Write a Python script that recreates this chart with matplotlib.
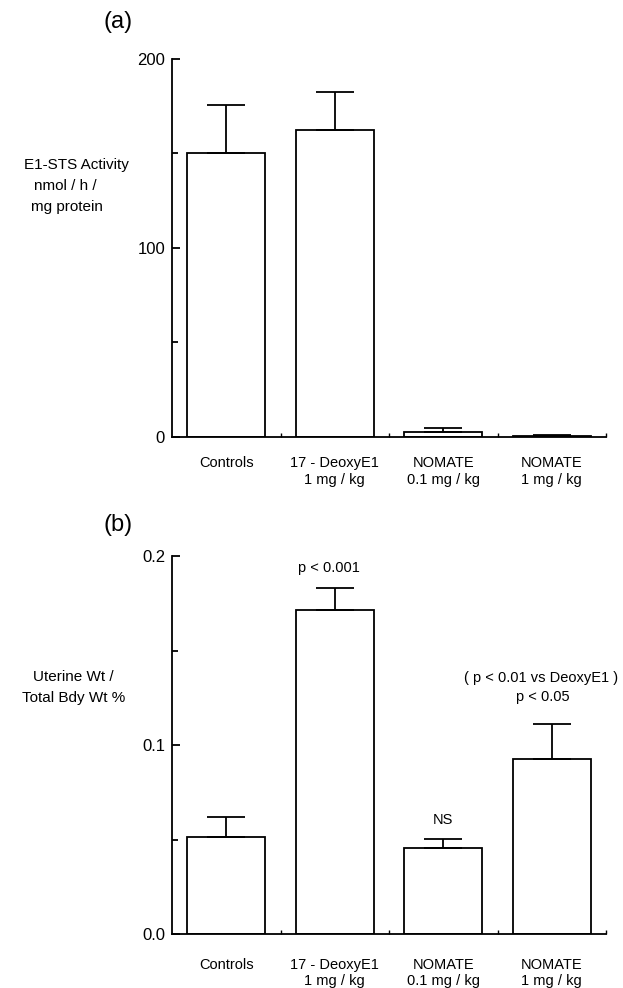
import matplotlib.pyplot as plt
import numpy as np

plt.rcParams['font.family'] = ['Liberation Sans', 'DejaVu Sans']

groups = ["Controls", "17 - DeoxyE1\n1 mg / kg", "NOMATE\n0.1 mg / kg", "NOMATE\n1 mg / kg"]

# (a) E1-STS activity, nmol/h/mg protein
sts_mean = [150, 162.5, 2.8, 0.5]
sts_err = [25.5, 20.3, 1.7, 0.4]

# (b) uterine wt / total body wt %
ut_mean = [0.0512, 0.1716, 0.0453, 0.0926]
ut_err = [0.0105, 0.0113, 0.0048, 0.0187]
ut_notes = ["", "p < 0.001", "NS", "p < 0.05"]

W, H = 623, 988
fig = plt.figure(figsize=(6.23, 9.88), dpi=100)

x = np.arange(len(groups))
lw = 1.3


def panel(ax, mean, err, ymax, yticks, yminor, fmt, pad):
    ax.bar(x, mean, width=0.72, color="white", edgecolor="black", linewidth=lw, zorder=2)
    ax.errorbar(x, mean, yerr=[np.zeros(len(err)), err], fmt="none", ecolor="black",
                elinewidth=lw, capsize=13.5, capthick=lw, zorder=3)
    ax.set_xlim(-0.5, 3.5)
    ax.set_ylim(0, ymax)
    for s in ["top", "right"]:
        ax.spines[s].set_visible(False)
    ax.spines["left"].set_linewidth(lw)
    ax.spines["bottom"].set_linewidth(lw)
    ax.set_yticks(yticks)
    ax.set_yticklabels([fmt(v) for v in yticks], fontsize=12)
    ax.set_yticks(yminor, minor=True)
    ax.tick_params(axis="y", which="major", direction="in", length=6, width=lw, pad=5)
    ax.tick_params(axis="y", which="minor", direction="in", length=4, width=lw)
    ax.set_xticks(x)
    ax.set_xticklabels(groups, fontsize=10.5)
    ax.set_xticks([0.5, 1.5, 2.5, 3.5], minor=True)
    ax.tick_params(axis="x", which="major", length=0, pad=pad)
    ax.tick_params(axis="x", which="minor", direction="in", length=3, width=1)


ax1 = fig.add_axes([172 / W, 1 - 437 / H, 434 / W, 378 / H])
panel(ax1, sts_mean, sts_err, 200, [0, 100, 200], [50, 150], lambda v: f"{v:.0f}", 14)

ax2 = fig.add_axes([172 / W, 1 - 934 / H, 434 / W, 378 / H])
panel(ax2, ut_mean, ut_err, 0.2, [0.0, 0.1, 0.2], [0.05, 0.15], lambda v: f"{v:.1f}", 17)

# significance notes above the bars
note_x = [0, 0.95, 2.0, 2.92]
note_y = [0, 0.1937, 0.0603, 0.1254]
for nx, ny, t in zip(note_x, note_y, ut_notes):
    if t:
        ax2.text(nx, ny, t, ha="center", va="center", fontsize=10.5)
ax2.text(2.9, 0.1354, "( p < 0.01 vs DeoxyE1 )", ha="center", va="center", fontsize=10.5)

# panel letters
fig.text(118 / W, 1 - 22 / H, "(a)", ha="center", va="center", fontsize=17)
fig.text(118 / W, 1 - 525 / H, "(b)", ha="center", va="center", fontsize=17)

# y labels, one line each like the original
for t, px, py in [("E1-STS Activity", 76, 165), ("nmol / h /", 65, 186), ("mg protein", 67, 207),
                  ("Uterine Wt /", 73, 677), ("Total Bdy Wt %", 74, 698)]:
    fig.text(px / W, 1 - py / H, t, ha="center", va="center", fontsize=11)

plt.savefig("out.png", dpi=100)
